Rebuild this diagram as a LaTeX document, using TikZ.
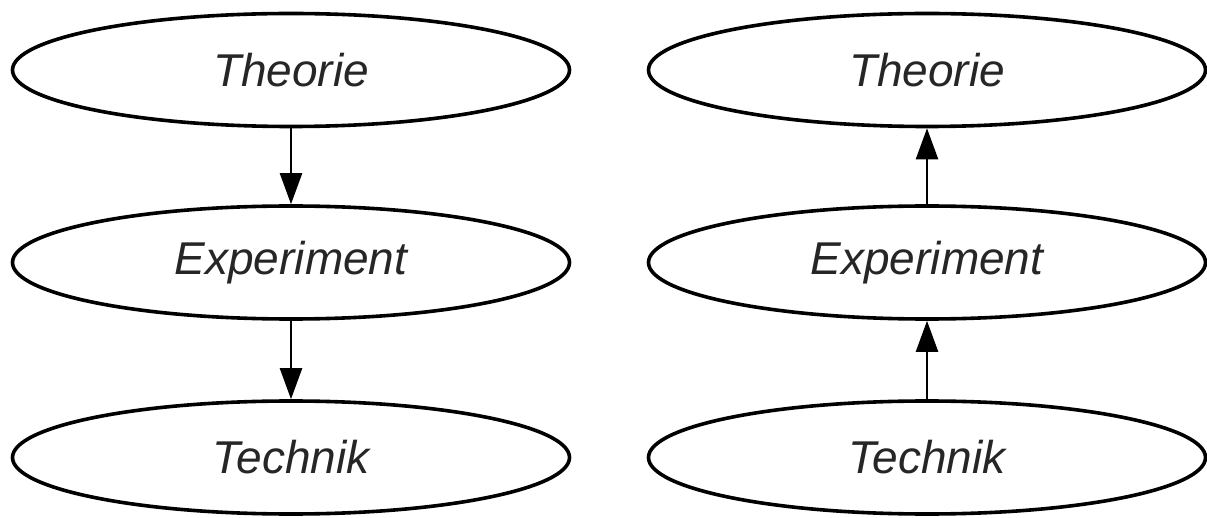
\documentclass[tikz,border=0pt]{standalone}
\usepackage{fontspec}
\setmainfont{Liberation Sans}
\usetikzlibrary{arrows.meta,shapes.geometric}
\begin{document}
\begin{tikzpicture}[x=1pt,y=-1pt,
  oval/.style={ellipse,draw=black,line width=3.6pt,minimum width=557pt,minimum height=113pt,inner sep=0pt,font=\fontsize{46pt}{50pt}\selectfont\itshape,text=black!85},
  conn/.style={line width=2.4pt,-{Triangle[length=31pt,width=22pt]}}]
\useasboundingbox (0,0) rectangle (1207,518);
\node[oval] (lt) at (291,70) {Theorie};
\node[oval] (le) at (291,262.5) {Experiment};
\node[oval] (lk) at (291,457.5) {Technik};
\node[oval] (rt) at (927,70) {Theorie};
\node[oval] (re) at (927,262.5) {Experiment};
\node[oval] (rk) at (927,457.5) {Technik};
\draw[conn] (lt.south) -- (le.north);
\draw[conn] (le.south) -- (lk.north);
\draw[conn] (re.north) -- (rt.south);
\draw[conn] (rk.north) -- (re.south);
\end{tikzpicture}
\end{document}
